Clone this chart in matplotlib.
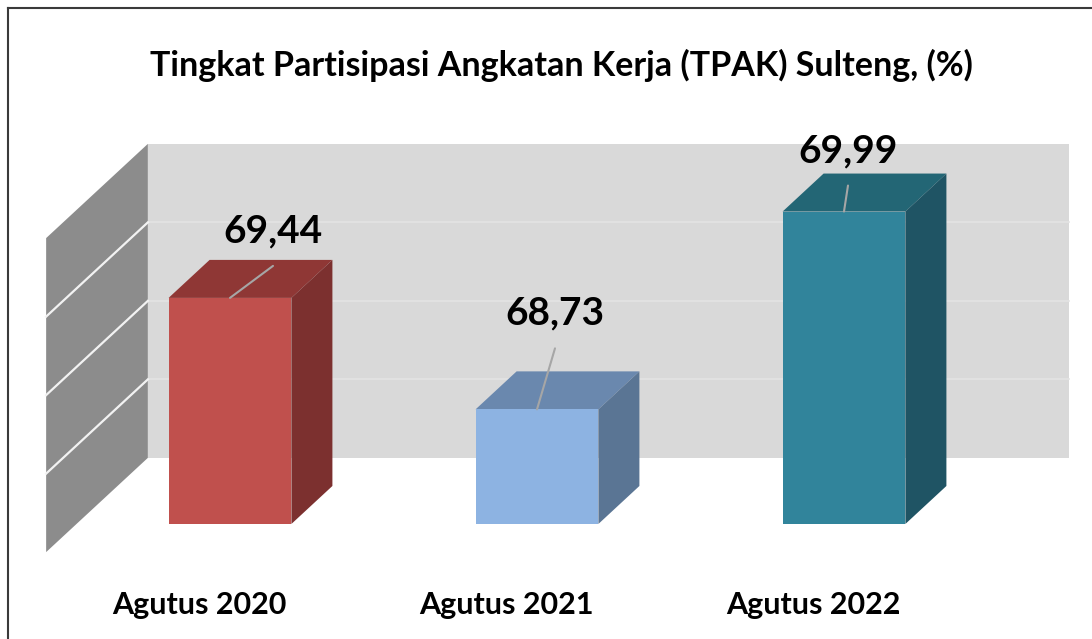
import matplotlib
matplotlib.use('Agg')
import matplotlib.pyplot as plt
from matplotlib.patches import Polygon, Rectangle
from matplotlib.lines import Line2D
from matplotlib import transforms

categories = ['Agutus 2020', 'Agutus 2021', 'Agutus 2022']
values = [69.44, 68.73, 69.99]
value_labels = ['69,44', '68,73', '69,99']
y_min, y_max = 68.0, 70.0
grid_vals = [68.5, 69.0, 69.5]

# colours of front / top / side faces
front_c = ['#c0504d', '#8db3e2', '#31849b']
top_c = ['#8f3735', '#6a88ae', '#236675']
side_c = ['#7c302f', '#5a7594', '#1f5464']

# leader line offsets (pixels) of the data labels, dragged by hand in the original
lab_off = [(43, 32), (18, 61), (4, 26)]

# fake 3d: shift for one unit of depth (bar depth = 1)
ddx, ddy = 0.1336, 0.242
d_wall = 1.74
d_front = -0.74
bw = 0.4

def sh(x, y, d):
    return (x + d * ddx, y + d * ddy)

plt.rcParams['font.family'] = ['Lato', 'DejaVu Sans']
fig = plt.figure(figsize=(10.92, 6.39), dpi=100)
ax = fig.add_axes([0.07005, 0.18, 0.8434, 0.4914])
ax.set_xlim(-0.5, 2.5)
ax.set_ylim(y_min, y_max)
ax.axis('off')

# back wall
x0, y0 = sh(-0.5, y_min, d_wall)
ax.add_patch(Rectangle((x0, y0), 3.0, y_max - y_min, fc='#d9d9d9', ec='none',
                       clip_on=False, zorder=1))
for g in grid_vals:
    a = sh(-0.5, g, d_wall)
    b = sh(2.5, g, d_wall)
    ax.plot([a[0], b[0]], [a[1], b[1]], color='#e3e3e3', lw=1.2, clip_on=False, zorder=1.5)

# side wall
sw = [sh(-0.5, y_min, d_front), sh(-0.5, y_min, d_wall),
      sh(-0.5, y_max, d_wall), sh(-0.5, y_max, d_front)]
ax.add_patch(Polygon(sw, closed=True, fc='#8c8c8c', ec='none', clip_on=False, zorder=2))
for g in grid_vals:
    a = sh(-0.5, g, d_front)
    b = sh(-0.5, g, d_wall)
    ax.plot([a[0], b[0]], [a[1], b[1]], color='#f2f2f2', lw=1.6, clip_on=False, zorder=2.5)

# bars
xs = list(range(len(values)))
ax.bar(xs, [v - y_min for v in values], bottom=y_min, width=bw, color=front_c,
       zorder=4, clip_on=False)
for i, v in enumerate(values):
    l, r = i - bw / 2, i + bw / 2
    tp = [(l, v), (r, v), sh(r, v, 1), sh(l, v, 1)]
    sp = [(r, y_min), sh(r, y_min, 1), sh(r, v, 1), (r, v)]
    ax.add_patch(Polygon(tp, closed=True, fc=top_c[i], ec='none', clip_on=False, zorder=3))
    ax.add_patch(Polygon(sp, closed=True, fc=side_c[i], ec='none', clip_on=False, zorder=3))

    dx, dy = lab_off[i]
    ax.annotate('', xy=(i, v), xytext=(dx, dy), textcoords='offset pixels',
                arrowprops=dict(arrowstyle='-', color='#a6a6a6', lw=1.5,
                                shrinkA=0, shrinkB=0), zorder=5)
    ax.annotate(value_labels[i], xy=(i, v), xytext=(dx, dy + 35),
                textcoords='offset pixels', ha='center', va='center',
                fontsize=28, fontweight='bold', color='black', zorder=6)

# category labels along the front edge of the floor
trans = transforms.blended_transform_factory(ax.transData, fig.transFigure)
for i, c in enumerate(categories):
    ax.text(i + d_front * ddx, 0.053, c, transform=trans, ha='center', va='center',
            fontsize=22, fontweight='bold', color='black')

fig.text(0.514, 0.898, 'Tingkat Partisipasi Angkatan Kerja (TPAK) Sulteng, (%)',
         ha='center', va='center', fontsize=24.5, fontweight='bold', color='black')

# frame of the original screenshot (only top and left show)
fig.add_artist(Line2D([8 / 1092, 1], [1 - 8 / 639, 1 - 8 / 639],
                      transform=fig.transFigure, color='#3a3a3a', lw=1.5))
fig.add_artist(Line2D([8 / 1092, 8 / 1092], [0, 1 - 8 / 639],
                      transform=fig.transFigure, color='#3a3a3a', lw=1.5))

plt.savefig('out.png', dpi=100)
